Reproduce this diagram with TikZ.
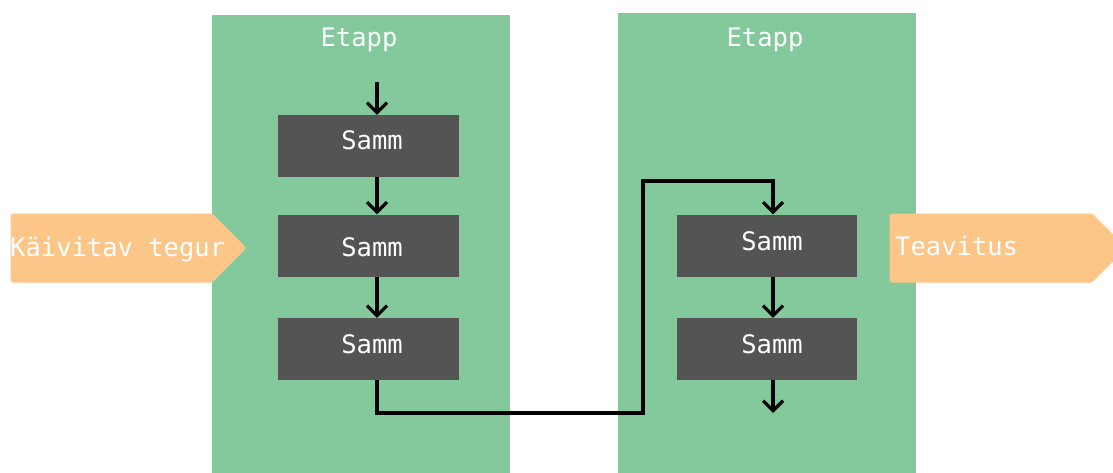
\documentclass[tikz,border=0pt]{standalone}
\usepackage{fontspec}
\newfontfamily\labelfont{DejaVu Sans Mono}
\usetikzlibrary{arrows.meta,calc}
\definecolor{stagegreen}{HTML}{83C99B}
\definecolor{stepgray}{HTML}{545454}
\definecolor{tagorange}{HTML}{FBC688}
\tikzset{
  label text/.style={text=white, font=\labelfont\fontsize{25.5}{30}\selectfont, inner sep=0pt},
  stage/.style={fill=stagegreen, draw=none},
  stagetitle/.style={label text, anchor=base},
  stepbox/.style={fill=stepgray, draw=none, minimum width=181pt, minimum height=62pt, inner sep=0pt},
  steptext/.style={label text, anchor=base},
  tagshape/.style={fill=tagorange, draw=tagorange, line width=1pt, rounded corners=1.5pt},
  taglabel/.style={label text, anchor=base west},
  flow/.style={line width=3.6pt, line join=miter,
    -{Straight Barb[length=10pt,width=20pt,line width=3.2pt]}},
}
\begin{document}
\begin{tikzpicture}[x=1pt,y=-1pt]
  \useasboundingbox (0,0) rectangle (1113,473);
  \clip (0,0) rectangle (1113,473);

  % stages
  \fill[stage] (212,15) rectangle (510,473);
  \fill[stage] (618,13) rectangle (916,473);
  \node[stagetitle] (t1) at (359,47) {Etapp};
  \node[stagetitle] (t2) at (765,47) {Etapp};

  % trigger and notification tags
  \path[tagshape] (11,214) -- (212,214) -- (246,248) -- (212,282) -- (11,282) -- cycle;
  \node[taglabel] (trig) at (10,256) {Käivitav tegur};
  \path[tagshape] (890,214) -- (1092,214) -- (1126,248) -- (1092,282) -- (890,282) -- cycle;
  \node[taglabel] (note) at (895,255) {Teavitus};

  % steps
  \node[stepbox] (s1) at (368.5,146) {};
  \node[stepbox] (s2) at (368.5,245.5) {};
  \node[stepbox] (s3) at (368.5,349) {};
  \node[stepbox, minimum width=180pt] (s4) at (767,245.5) {};
  \node[stepbox, minimum width=180pt] (s5) at (767,349) {};
  \node[steptext] (s1t) at (372,150) {Samm};
  \node[steptext] (s2t) at (372,256) {Samm};
  \node[steptext] (s3t) at (372,353) {Samm};
  \node[steptext] (s4t) at (772,250) {Samm};
  \node[steptext] (s5t) at (772,353) {Samm};

  % flow lanes
  \coordinate (laneL) at (377,0);
  \coordinate (laneR) at (773,0);
  \coordinate (entry) at (377,82);
  \coordinate (exit) at (773,413);
  \coordinate (bendA) at (377,413);
  \coordinate (bendB) at (643,413);
  \coordinate (bendC) at (643,181);
  \coordinate (bendD) at (773,181);

  \draw[flow] (entry) -- (s1.north -| laneL);
  \draw[flow] (s1.south -| laneL) -- (s2.north -| laneL);
  \draw[flow] (s2.south -| laneL) -- (s3.north -| laneL);
  \draw[flow] (s3.south -| laneL) -- (bendA) -- (bendB) -- (bendC) -- (bendD) -- (s4.north -| laneR);
  \draw[flow] (s4.south -| laneR) -- (s5.north -| laneR);
  \draw[flow] (s5.south -| laneR) -- (exit);
\end{tikzpicture}
\end{document}
